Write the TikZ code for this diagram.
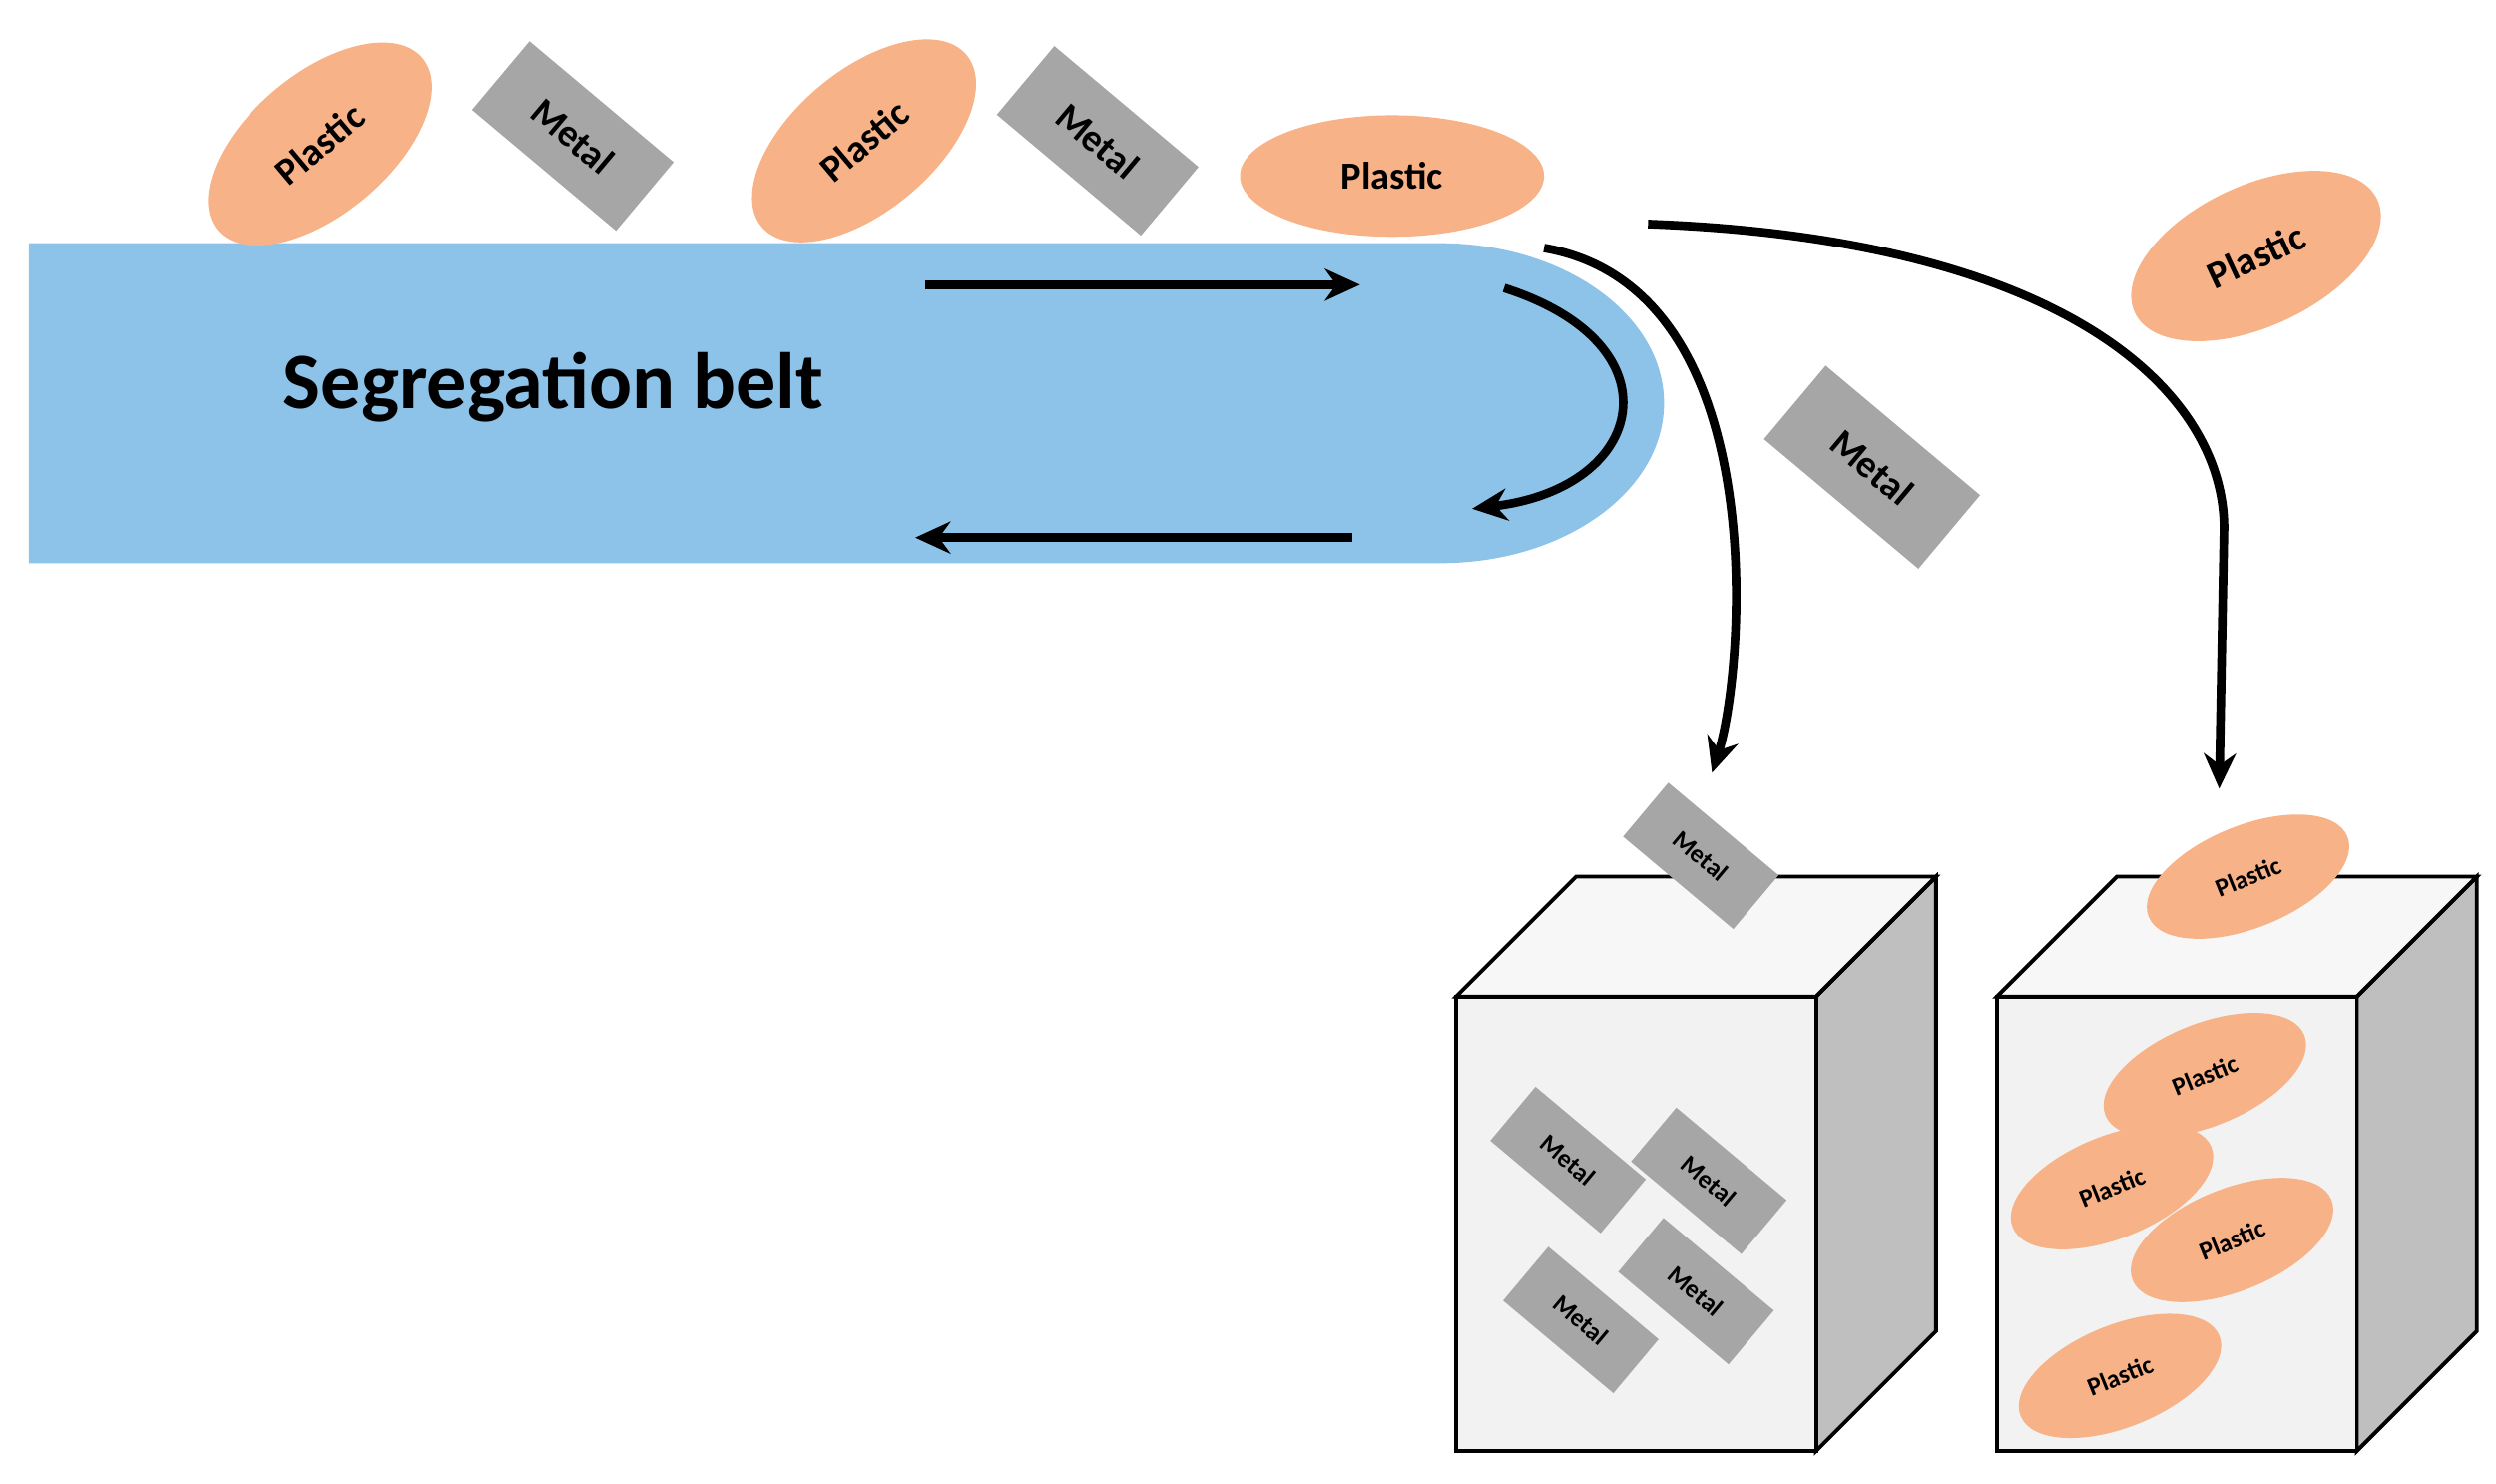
\documentclass[tikz,border=0pt]{standalone}
\usepackage{fontspec}
\setmainfont{Carlito}
\usetikzlibrary{shapes.geometric,arrows.meta}
\definecolor{belt}{HTML}{8DC3E8}
\definecolor{plas}{HTML}{F8B288}
\definecolor{met}{HTML}{A6A6A6}
\definecolor{boxf}{HTML}{F2F2F2}
\definecolor{boxs}{HTML}{BFBFBF}
\begin{document}
\begin{tikzpicture}[x=0.5pt,y=-0.5pt,
  plastic/.style={ellipse,fill=plas,inner sep=0pt,minimum width=#1*1.9,minimum height=#1,font=\bfseries\fontsize{12}{13}\selectfont},
  metal/.style={rectangle,fill=met,inner sep=0pt,minimum width=#1*2.1,minimum height=#1,font=\bfseries\fontsize{12}{13}\selectfont},
  small/.style={font=\bfseries\fontsize{8}{9}\selectfont},
  arr/.style={line width=2.7pt,-{Stealth[length=11pt,width=10pt]}},
  face/.style={draw=black,line width=1.2pt}]
\useasboundingbox (0,0) rectangle (1560,927);
% belt
\fill[belt] (18,152) -- (900,152) arc[start angle=90,end angle=-90,x radius=140,y radius=-100] -- (18,352) -- cycle;
\node[font=\bfseries\fontsize{25}{28}\selectfont] (lbl) at (346,242) {Segregation belt};
\coordinate (a1) at (578,178); \coordinate (a2) at (850,178);
\coordinate (b1) at (845,336); \coordinate (b2) at (572,336);
\coordinate (c1) at (940,180); \coordinate (c2) at (920,318);
\draw[arr] (a1) -- (a2);
\draw[arr] (b1) -- (b2);
\draw[arr] (c1) .. controls (1050,215) and (1030,305) .. (c2);
% items on belt
\node[plastic=44,rotate=40] (p1) at (200,90) {Plastic};
\node[plastic=44,rotate=40] (p2) at (540,88) {Plastic};
\node[plastic=38,minimum width=95] (p3) at (870,110) {Plastic};
\node[plastic=44,rotate=25] (p4) at (1410,160) {Plastic};
\node[metal=28,rotate=-40] (m1) at (358,85) {Metal};
\node[metal=28,rotate=-40] (m2) at (686,88) {Metal};
\node[metal=30,rotate=-40] (m3) at (1170,292) {Metal};
% drop curves
\coordinate (d1) at (965,155); \coordinate (d2) at (1070,483);
\coordinate (e1) at (1030,140); \coordinate (e2) at (1387,493);
\draw[arr] (d1) .. controls (1110,180) and (1090,420) .. (d2);
\draw[arr] (e1) .. controls (1300,150) and (1390,250) .. (1390,330) -- (e2);
% boxes
\foreach \o/\n in {0/1,338/2}{
  \draw[face,fill=boxs] (1135+\o,623) -- (1210+\o,548) -- (1210+\o,832) -- (1135+\o,907) -- cycle;
  \draw[face,fill=boxf!60!white] (910+\o,623) -- (985+\o,548) -- (1210+\o,548) -- (1135+\o,623) -- cycle;
  \draw[face,fill=boxf] (910+\o,623) rectangle (1135+\o,907);
}
\node[metal=22,minimum width=45,rotate=-40,small] (s0) at (1063,535) {Metal};
\node[metal=22,minimum width=45,rotate=-40,small] (s1) at (980,725) {Metal};
\node[metal=22,minimum width=45,rotate=-40,small] (s2) at (1068,738) {Metal};
\node[metal=22,minimum width=45,rotate=-40,small] (s3) at (988,825) {Metal};
\node[metal=22,minimum width=45,rotate=-40,small] (s4) at (1060,807) {Metal};
\node[plastic=32,minimum width=67,rotate=22,small] (q0) at (1405,548) {Plastic};
\node[plastic=32,minimum width=67,rotate=22,small] (q1) at (1378,672) {Plastic};
\node[plastic=32,minimum width=67,rotate=22,small] (q2) at (1320,742) {Plastic};
\node[plastic=32,minimum width=67,rotate=22,small] (q3) at (1395,775) {Plastic};
\node[plastic=32,minimum width=67,rotate=22,small] (q4) at (1325,860) {Plastic};
\end{tikzpicture}
\end{document}
